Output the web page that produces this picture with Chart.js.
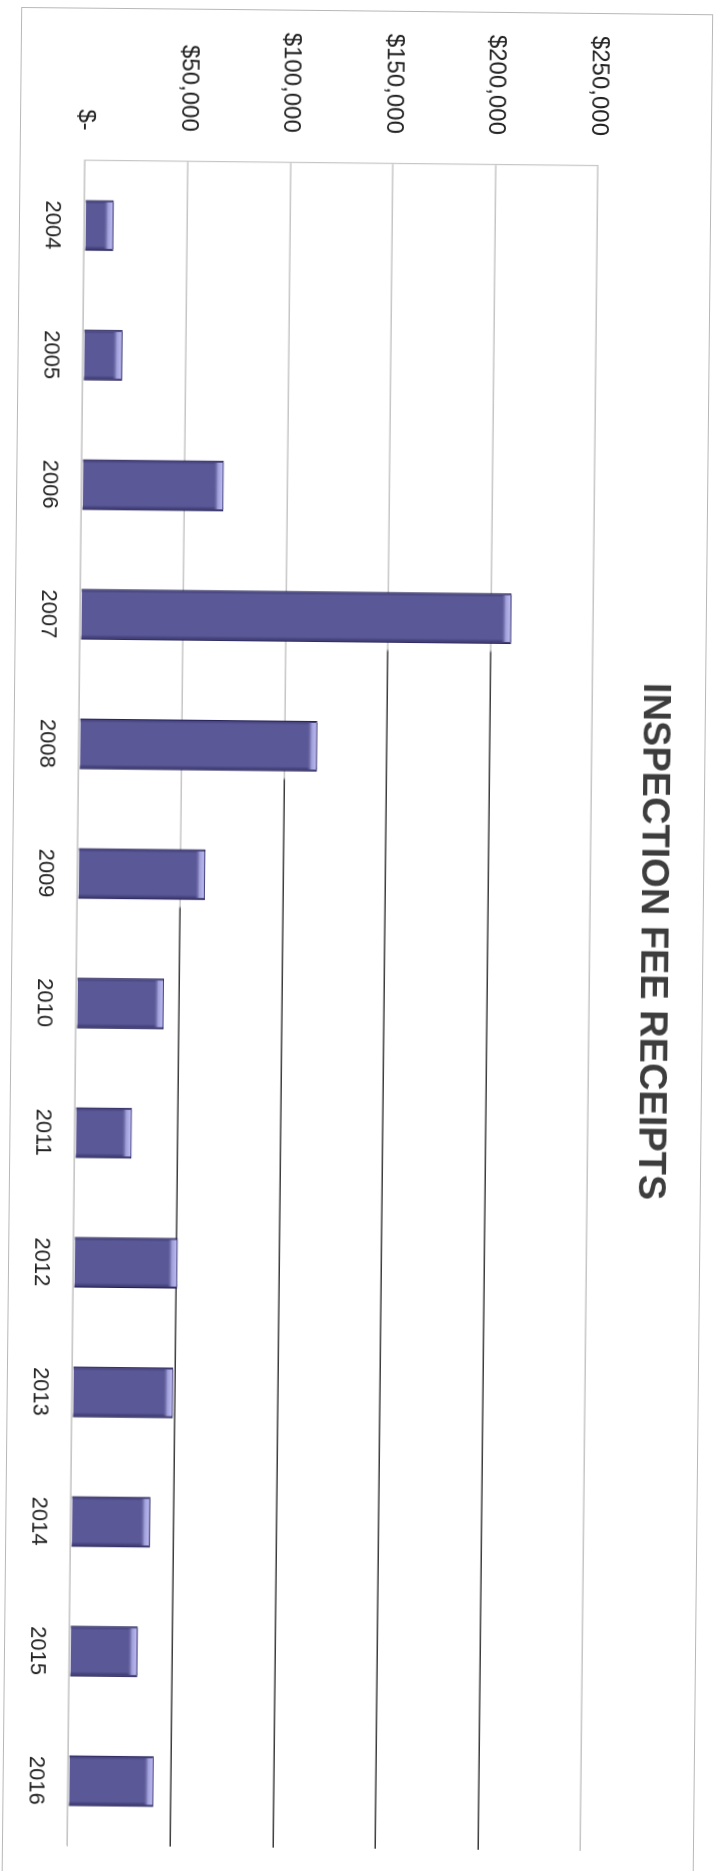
<!DOCTYPE html>
<html>
<head>
<meta charset="utf-8">
<title>Inspection Fee Receipts</title>
<script src="https://cdn.jsdelivr.net/npm/chart.js@4.4.1/dist/chart.umd.min.js"></script>
<style>
  html, body { margin: 0; padding: 0; background: #fff; }
  body { width: 720px; height: 1871px; overflow: hidden; position: relative; }
  /* the sheet is laid out landscape and turned onto the portrait page */
  #sheet {
    position: absolute;
    left: -575.5px;
    top: 575.5px;
    width: 1871px;
    height: 720px;
    transform-origin: 935.5px 360px;
    transform: rotate(90.6deg);
  }
  #frame {
    position: absolute;
    left: 9.5px; top: 16.5px;
    width: 1900px; height: 692.5px;
    border: 1.5px solid #b8b8b8;
    box-sizing: border-box;
  }
  #receiptsChart { position: absolute; left: 0; top: 0; }
</style>
</head>
<body>
<div id="sheet">
  <div id="frame"></div>
  <canvas id="receiptsChart" width="1871" height="720"></canvas>
</div>
<script>
// Fee receipts by year
const years = ['2004', '2005', '2006', '2007', '2008', '2009', '2010', '2011', '2012', '2013', '2014', '2015', '2016'];
const receipts = [14000, 19000, 69000, 210000, 116000, 62000, 42500, 27500, 50500, 49000, 38500, 33000, 41500];

// Value axis
const tickValues = [0, 50000, 100000, 150000, 200000, 250000];
const tickLabels = ['$-', '$50,000', '$100,000', '$150,000', '$200,000', '$250,000'];

const LIGHT = '#c6c6c6';
const DARK = '#3c3c3c';
const AXIS_MAX = tickValues[tickValues.length - 1];

// Gridlines print faint until the first run of bars that passes them, then dark
function gridStroke(ctx) {
  const chart = ctx.chart;
  const area = chart.chartArea;
  const v = ctx.tick ? ctx.tick.value : 0;
  if (!area || v <= 0 || v >= AXIS_MAX) return LIGHT;
  let i = receipts.findIndex(r => r > v);
  if (i < 0) return LIGHT;
  while (i + 1 < receipts.length && receipts[i + 1] > v) i++;
  const bar = chart.getDatasetMeta(0).data[i];
  if (!bar || !bar.width) return LIGHT;
  const edge = bar.x + bar.width / 2 + 6;
  const t = Math.max(0, Math.min(0.998, (edge - area.left) / (area.right - area.left)));
  const g = chart.ctx.createLinearGradient(area.left, 0, area.right, 0);
  g.addColorStop(0, LIGHT);
  g.addColorStop(t, LIGHT);
  g.addColorStop(t + 0.002, DARK);
  g.addColorStop(1, DARK);
  return g;
}

// Bevel: dark long edges, light cap at the end of each bar
const bevel = {
  id: 'bevel',
  afterDatasetsDraw(chart) {
    const c = chart.ctx;
    chart.getDatasetMeta(0).data.forEach(bar => {
      const w = bar.width;
      const left = bar.x - w / 2;
      const right = bar.x + w / 2;
      const top = bar.y;
      const h = bar.base - top;
      c.save();
      const body = c.createLinearGradient(left, 0, right, 0);
      body.addColorStop(0, 'rgba(30,28,80,0.55)');
      body.addColorStop(0.08, 'rgba(30,28,80,0)');
      body.addColorStop(0.9, 'rgba(30,28,80,0)');
      body.addColorStop(1, 'rgba(30,28,80,0.7)');
      c.fillStyle = body;
      c.fillRect(left, top, w, h);
      const cap = c.createLinearGradient(0, top, 0, top + 10);
      cap.addColorStop(0, 'rgba(40,38,95,0.9)');
      cap.addColorStop(0.15, '#b9b7ee');
      cap.addColorStop(0.55, '#a09ed8');
      cap.addColorStop(1, 'rgba(91,88,151,0)');
      c.fillStyle = cap;
      c.fillRect(left + 2, top, w - 4, 10);
      c.restore();
    });
  }
};

new Chart(document.getElementById('receiptsChart'), {
  type: 'bar',
  data: {
    labels: years,
    datasets: [{
      label: 'Inspection fee receipts',
      data: receipts,
      backgroundColor: '#5b5897',
      borderColor: '#2f2d66',
      borderWidth: 1,
      categoryPercentage: 1,
      barPercentage: 0.39
    }]
  },
  options: {
    responsive: false,
    animation: false,
    layout: { padding: { left: 28, right: 23, top: 0, bottom: 0 } },
    plugins: {
      legend: { display: false },
      tooltip: { enabled: false },
      title: {
        display: true,
        text: 'INSPECTION FEE RECEIPTS',
        color: '#3d3d3d',
        font: { family: 'Liberation Sans', size: 38, weight: 'bold', lineHeight: 1.2 },
        padding: { top: 46, bottom: 39 }
      }
    },
    scales: {
      x: {
        afterFit: scale => { scale.height = 76.75; },
        grid: { display: false, drawTicks: false },
        border: { display: true, color: LIGHT, width: 1.2 },
        ticks: {
          color: '#222',
          padding: 19,
          maxRotation: 0,
          font: { family: 'Liberation Sans', size: 22 }
        }
      },
      y: {
        min: 0,
        max: AXIS_MAX,
        afterFit: scale => { scale.width = 135; },
        afterBuildTicks: scale => { scale.ticks = tickValues.map(v => ({ value: v })); },
        grid: { color: gridStroke, lineWidth: 1.4, drawTicks: false },
        border: { display: true, color: LIGHT, width: 1.2 },
        ticks: {
          color: '#222',
          padding: 30,
          font: { family: 'Liberation Sans', size: 24 },
          callback: v => tickLabels[tickValues.indexOf(v)]
        }
      }
    }
  },
  plugins: [bevel]
});
</script>
</body>
</html>
